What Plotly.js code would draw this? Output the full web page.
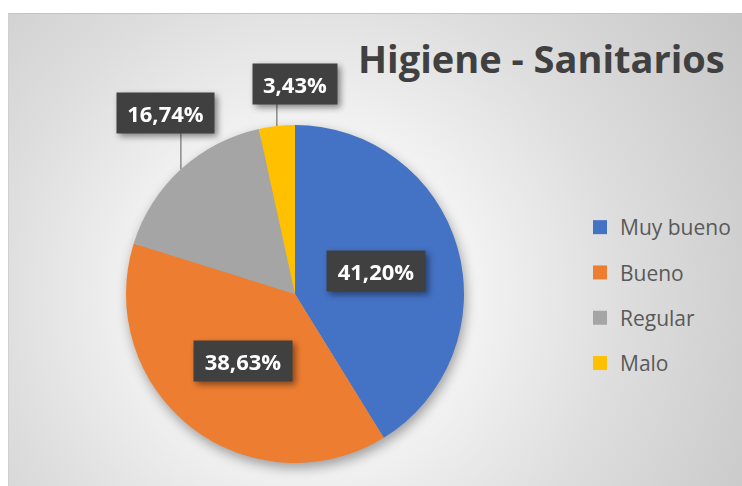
<!DOCTYPE html>
<html>
<head>
<meta charset="utf-8">
<script src="https://cdn.plot.ly/plotly-3.0.1.min.js"></script>
<style>
  html, body { margin: 0; padding: 0; background: #ffffff; }
  #wrap { position: relative; width: 742px; height: 486px; overflow: hidden; }
  #bg {
    position: absolute; left: 8px; top: 13px; width: 734px; height: 473px;
    background: radial-gradient(circle farthest-corner at 300px 280px, #ffffff 0%, #f4f4f4 30%, #dedede 60%, #c6c6c6 100%);
    border-top: 1px solid #c4c4c4; border-left: 1px solid #d0d0d0;
  }
  #chart { position: absolute; left: 0; top: 0; width: 742px; height: 486px; }
  .pielayer .trace { filter: drop-shadow(2px 5px 6px rgba(0,0,0,0.35)); }
  .annotation-text-g { filter: drop-shadow(3px 3px 3px rgba(0,0,0,0.45)); }
</style>
</head>
<body>
<div id="wrap"><div id="bg"></div><div id="chart"></div></div>
<script>
// ---- data ----
const categories = ["Muy bueno", "Bueno", "Regular", "Malo"];
const values = [41.20, 38.63, 16.74, 3.43];
const valueLabels = ["41,20%", "38,63%", "16,74%", "3,43%"];
const colors = ["#4472C4", "#ED7D31", "#A5A5A5", "#FFC000"];
const chartTitle = "Higiene - Sanitarios";

// ---- layout constants (pixels) ----
const W = 742, H = 486;
const cx = 295, cy = 294, R = 169;
const FONT = "'Open Sans', Lato, sans-serif";
// label placement: inside labels at fraction of radius; outside labels offset from slice edge
const labelMode = ["inside", "inside", "outside", "outside"];
const insideFrac = 0.5;
const outsideOffset = [null, null, [-15, -56], [18, -42]];
const boxW = [96, 96, 95, 82];

const px = x => x / W;
const py = y => 1 - y / H;

const total = values.reduce((a, b) => a + b, 0);
let cum = 0;
const annotations = [];
const shapes = [];
values.forEach((v, i) => {
  const mid = (cum + v / 2) / total * 2 * Math.PI; // clockwise from 12 o'clock
  cum += v;
  const s = Math.sin(mid), c = Math.cos(mid);
  let bx, by;
  if (labelMode[i] === "inside") {
    bx = cx + insideFrac * R * s;
    by = cy - insideFrac * R * c;
  } else {
    const ex = cx + R * s, ey = cy - R * c;
    bx = ex + outsideOffset[i][0];
    by = ey + outsideOffset[i][1];
    shapes.push({
      type: "line", xref: "paper", yref: "paper",
      x0: px(ex), y0: py(ey), x1: px(ex), y1: py(by + 20),
      line: { color: "#8c8c8c", width: 1.5 }, layer: "below"
    });
  }
  annotations.push({
    xref: "paper", yref: "paper", x: px(bx), y: py(by),
    xanchor: "center", yanchor: "middle",
    text: "<b>" + valueLabels[i] + "</b>", showarrow: false,
    font: { family: FONT, size: 22, color: "#ffffff" },
    bgcolor: "#404040", borderpad: 1, width: boxW[i], height: 38
  });
});

const pieTrace = {
  type: "pie", labels: categories, values: values, sort: false,
  direction: "clockwise", rotation: 0,
  marker: { colors: colors, line: { width: 0 } },
  textinfo: "none", hoverinfo: "label+percent", showlegend: false,
  domain: { x: [px(cx - R), px(cx + R)], y: [py(cy + R), py(cy - R)] }
};

// legend entries (one per category) as empty traces
const legendTraces = categories.map((name, i) => ({
  type: "scatter", mode: "markers", x: [null], y: [null], name: name,
  legendgroup: name, marker: { symbol: "square", size: 14, color: colors[i] },
  xaxis: "x", yaxis: "y", hoverinfo: "skip"
}));

const layout = {
  width: W, height: H,
  margin: { l: 0, r: 0, t: 0, b: 0 },
  paper_bgcolor: "rgba(0,0,0,0)", plot_bgcolor: "rgba(0,0,0,0)",
  title: {
    text: "<b>" + chartTitle + "</b>",
    xref: "paper", yref: "paper", x: px(358), y: py(60),
    xanchor: "left", yanchor: "middle",
    font: { family: FONT, size: 38, color: "#404040" }
  },
  xaxis: { visible: false, domain: [0.98, 1] },
  yaxis: { visible: false, domain: [0.98, 1] },
  showlegend: true,
  legend: {
    x: px(580), y: py(207), xanchor: "left", yanchor: "top",
    bgcolor: "rgba(0,0,0,0)", tracegroupgap: 15, itemwidth: 30,
    font: { family: FONT, size: 21, color: "#595959" }
  },
  annotations: annotations,
  shapes: shapes
};

Plotly.newPlot("chart", [pieTrace].concat(legendTraces), layout, { displayModeBar: false, staticPlot: true });
</script>
</body>
</html>
